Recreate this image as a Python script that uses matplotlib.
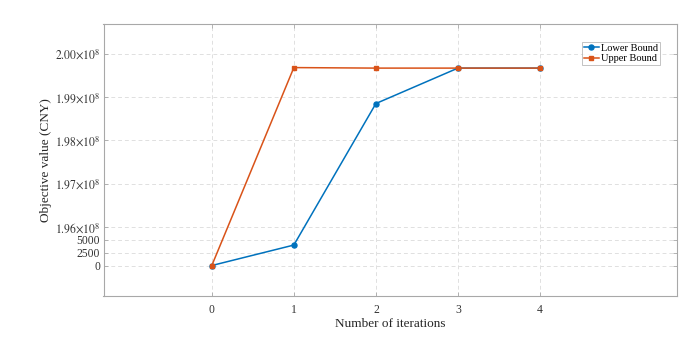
import numpy as np
import matplotlib
matplotlib.use("Agg")
import matplotlib.pyplot as plt
from matplotlib.scale import FuncScale

iterations = [0, 1, 2, 3, 4]
lower_bound = [0, 3940, 1.98848e8, 1.99665e8, 1.99665e8]
upper_bound = [0, 1.99677e8, 1.99665e8, 1.99665e8, 1.99665e8]
y_ticks = [0, 2500, 5000, 1.96e8, 1.97e8, 1.98e8, 1.99e8, 2.00e8]
y_tick_labels = ["0", "2500", "5000",
                 r"$1.96{\times}10^{8}$", r"$1.97{\times}10^{8}$",
                 r"$1.98{\times}10^{8}$", r"$1.99{\times}10^{8}$",
                 r"$2.00{\times}10^{8}$"]
x_ticks = [0, 1, 2, 3, 4]

# piecewise broken-axis scale
_v = np.array([-1e5, 0, 5000, 1.96e8, 2.2e8])
_u = np.array([-520.0, 0.0, 26.0, 38.5, 38.5 + 24 * 43.4])
def fwd(y):
    return np.interp(y, _v, _u)
def inv(u):
    return np.interp(u, _u, _v)

plt.rcParams['font.family'] = ['Liberation Serif', 'DejaVu Serif']
plt.rcParams['mathtext.fontset'] = 'stix'

fig = plt.figure(figsize=(7, 3.38), dpi=100)
W, H = 700, 338
left, right, top, bottom = 103.5, 677, 23.5, 296
ax = fig.add_axes([left / W, 1 - bottom / H, (right - left) / W, (bottom - top) / H])
ax.set_yscale(FuncScale(ax, (fwd, inv)))

blue = '#0072BD'
orange = '#D95319'
ax.plot(iterations, lower_bound, '-o', color=blue, lw=1.1, ms=3.6, label='Lower Bound', zorder=3)
ax.plot(iterations, upper_bound, '-s', color=orange, lw=1.1, ms=3.2, label='Upper Bound', zorder=3)

ax.set_xlim(-1.32, 5.67)
ax.set_ylim(inv(-30.5), inv(242.2))
ax.set_xticks(x_ticks)
ax.set_yticks(y_ticks)
ax.set_yticklabels(y_tick_labels)
ax.minorticks_off()

ax.grid(True, ls=(0, (4, 3)), color='#e0e0e0', lw=0.7)
for s in ax.spines.values():
    s.set_color('#a8a8a8')
    s.set_linewidth(0.8)
ax.tick_params(direction='in', length=3, width=0.6, colors='#a8a8a8',
               labelcolor='#333333', labelsize=8.4, top=True, right=True)
ax.tick_params(axis='x', pad=5.5)
ax.tick_params(axis='y', pad=2.5)
ax.set_xlabel('Number of iterations', fontsize=9.5, color='#262626', labelpad=1.5)
ax.set_ylabel('Objective value (CNY)', fontsize=9.5, color='#262626', labelpad=2)

leg = ax.legend(loc='upper right', bbox_to_anchor=(660 / W, 1 - 41.5 / H),
                bbox_transform=fig.transFigure, fontsize=7.5, frameon=True,
                fancybox=False, edgecolor='#a8a8a8', borderpad=0.2,
                handlelength=1.4, handletextpad=0.2, labelspacing=0.1,
                borderaxespad=0)
leg.get_frame().set_linewidth(0.6)

fig.savefig('out.png', dpi=100)
